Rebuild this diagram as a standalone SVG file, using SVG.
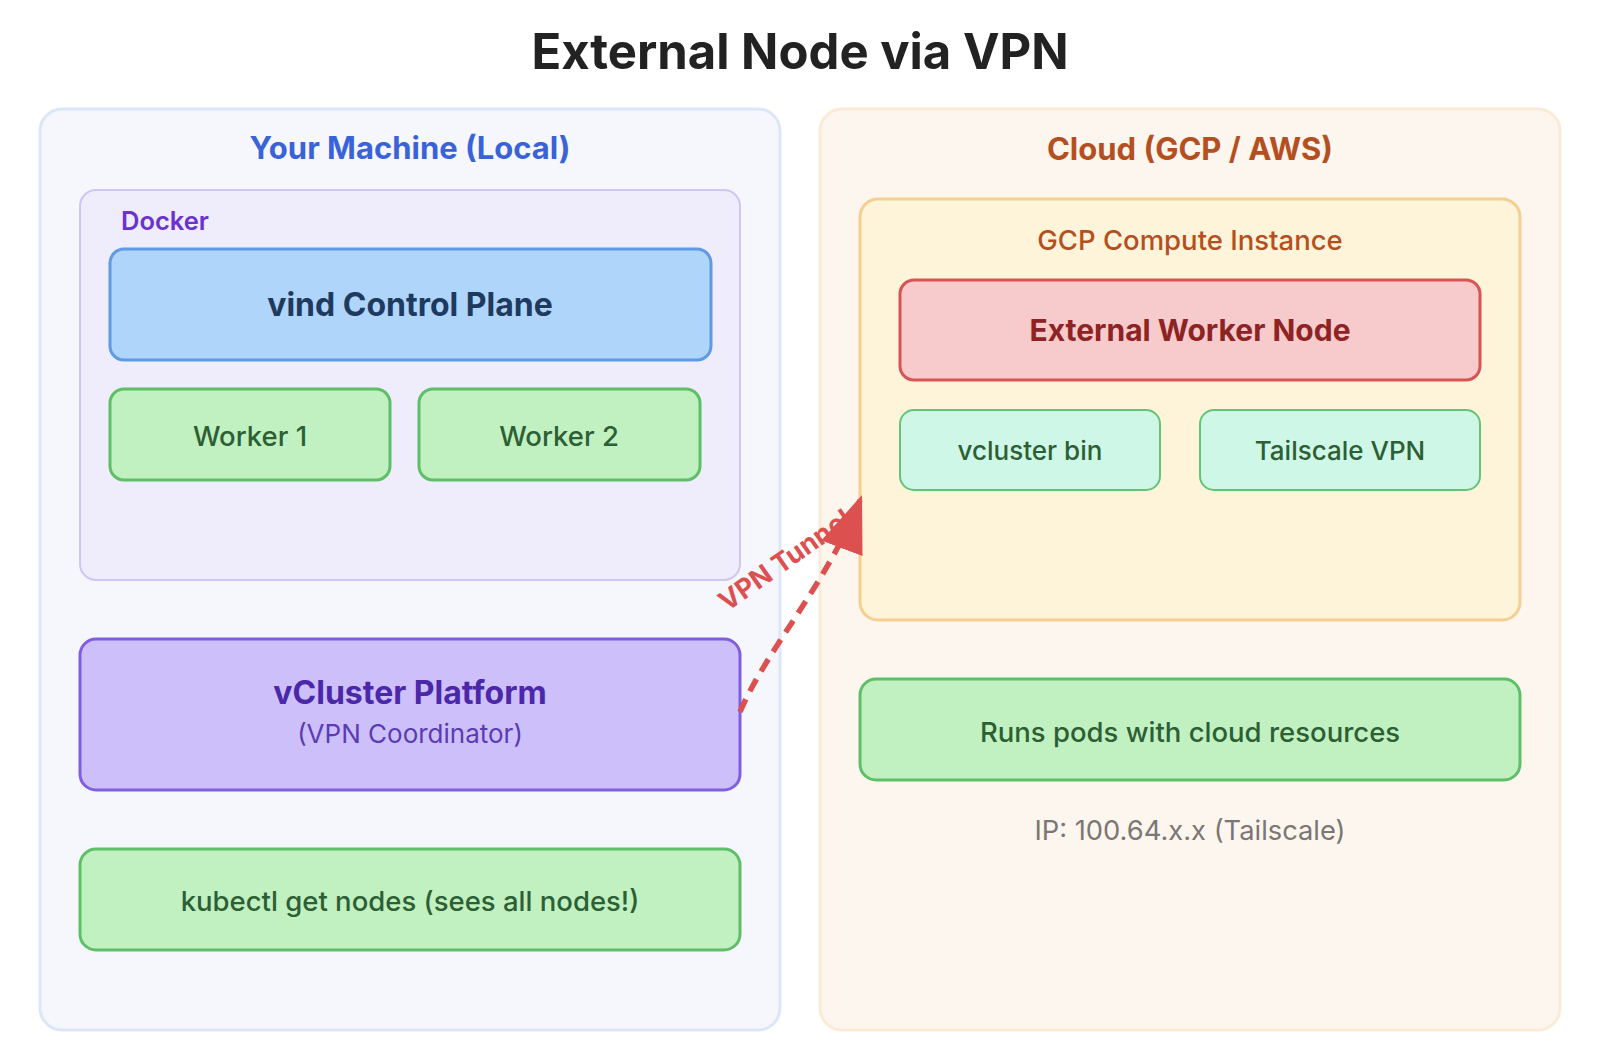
<svg xmlns="http://www.w3.org/2000/svg" width="1600" height="1060" viewBox="0 0 1600 1060">
<style>
text{font-family:Inter,"Noto Sans","Liberation Sans",sans-serif;}
.title{font-size:49px;font-weight:700;fill:#222222;text-anchor:middle;}
.sect{font-size:31px;font-weight:700;text-anchor:middle;}
.lbl{font-size:27.5px;font-weight:500;text-anchor:middle;}
.big{font-size:32px;font-weight:700;text-anchor:middle;}
.small{font-size:26px;font-weight:500;text-anchor:middle;}
.green{fill:#c1f0c1;stroke:#5fbf69;stroke-width:3;}
.gtext{fill:#2d5f35;}
.mint{fill:#cff7e8;stroke:#63c479;stroke-width:2;}
</style>
<defs>
<marker id="ah" markerUnits="userSpaceOnUse" viewBox="0 0 57 44" refX="57" refY="22" markerWidth="57" markerHeight="44" orient="auto">
<path d="M0,0 L57,22 L0,44 Z" fill="#dc5050"/>
</marker>
</defs>
<rect width="1600" height="1060" fill="#ffffff"/>
<text class="title" x="800" y="69">External Node via VPN</text>

<g id="local">
<rect x="40" y="109" width="740" height="921" rx="22" fill="#f6f7fd" stroke="#dbe6f8" stroke-width="3"/>
<text class="sect" x="410" y="159" fill="#3a63d8">Your Machine (Local)</text>
</g>
<g id="docker">
<rect x="80" y="190" width="660" height="390" rx="16" fill="#efecfb" stroke="#d0c5f3" stroke-width="2"/>
<text x="121" y="230" font-size="25.5" font-weight="600" fill="#6a33d0">Docker</text>
</g>
<g id="vind">
<rect x="110" y="249" width="601" height="111" rx="14" fill="#b0d5fa" stroke="#5f9ae4" stroke-width="3"/>
<text class="big" x="410" y="316" fill="#1f3a5f">vind Control Plane</text>
</g>
<g id="worker1">
<rect class="green" x="110" y="389" width="280" height="91" rx="14"/>
<text class="lbl gtext" x="250" y="446">Worker 1</text>
</g>
<g id="worker2">
<rect class="green" x="419" y="389" width="281" height="91" rx="14"/>
<text class="lbl gtext" x="559" y="446">Worker 2</text>
</g>
<g id="vcluster-platform">
<rect x="80" y="639" width="660" height="151" rx="16" fill="#cdc0fa" stroke="#7f5fe0" stroke-width="3"/>
<text class="big" x="410" y="704" fill="#4b27a9">vCluster Platform</text>
<text x="410" y="743" font-size="26" text-anchor="middle" fill="#5a3bb5">(VPN Coordinator)</text>
</g>
<g id="kubectl">
<rect class="green" x="80" y="849" width="660" height="101" rx="16"/>
<text class="lbl gtext" x="410" y="911">kubectl get nodes (sees all nodes!)</text>
</g>

<g id="cloud">
<rect x="820" y="109" width="740" height="921" rx="22" fill="#fdf6ef" stroke="#fbebd6" stroke-width="3"/>
<text class="sect" x="1190" y="160" fill="#b4501f">Cloud (GCP / AWS)</text>
</g>
<g id="gcp">
<rect x="860" y="199" width="660" height="421" rx="18" fill="#fdf4da" stroke="#f4cf8f" stroke-width="3"/>
<text class="lbl" x="1190" y="250" fill="#b4501f">GCP Compute Instance</text>
</g>
<g id="external-worker">
<rect x="900" y="280" width="580" height="100" rx="14" fill="#f7cacb" stroke="#d85353" stroke-width="3"/>
<text class="big" x="1190" y="341" style="font-size:30px" fill="#8d2323">External Worker Node</text>
</g>
<g id="vcluster-bin">
<rect class="mint" x="900" y="410" width="260" height="80" rx="14"/>
<text class="small gtext" x="1030" y="460">vcluster bin</text>
</g>
<g id="tailscale">
<rect class="mint" x="1200" y="410" width="280" height="80" rx="14"/>
<text class="small gtext" x="1340" y="460">Tailscale VPN</text>
</g>
<g id="pods">
<rect class="green" x="860" y="679" width="660" height="101" rx="16"/>
<text class="lbl gtext" x="1190" y="742">Runs pods with cloud resources</text>
</g>
<text x="1190" y="840" font-size="27.3" text-anchor="middle" fill="#7a7775">IP: 100.64.x.x (Tailscale)</text>

<g id="connectors">
<path d="M740,712 C766,650 830,580 862,495" fill="none" stroke="#dc5050" stroke-width="5.5" stroke-dasharray="14 9" marker-end="url(#ah)"/>
<text x="0" y="0" font-size="27" font-weight="700" fill="#dc5050" transform="translate(727,612) rotate(-35)">VPN Tunnel</text>
</g>
</svg>
